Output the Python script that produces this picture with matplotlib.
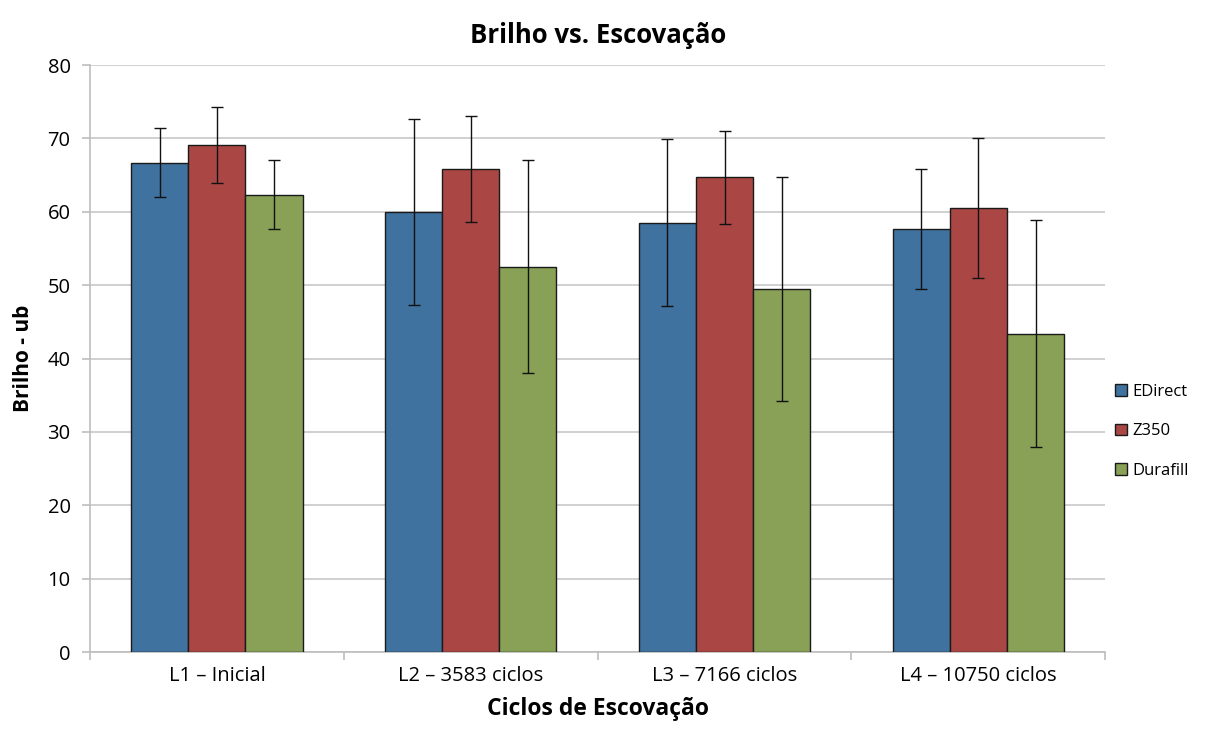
"""Brilho vs. Escovação grouped bar chart."""

import matplotlib
matplotlib.use("Agg")
import matplotlib.pyplot as plt
import numpy as np

plt.rcParams["font.family"] = ["Open Sans", "DejaVu Sans"]

categories = ["L1 – Inicial", "L2 – 3583 ciclos", "L3 – 7166 ciclos", "L4 – 10750 ciclos"]
series_names = ["EDirect", "Z350", "Durafill"]
edirect = [66.7, 60.0, 58.5, 57.7]
z350 = [69.1, 65.8, 64.7, 60.5]
durafill = [62.3, 52.5, 49.5, 43.4]
edirect_err = [4.7, 12.7, 11.4, 8.2]
z350_err = [5.2, 7.2, 6.3, 9.5]
durafill_err = [4.7, 14.5, 15.3, 15.5]
colors = ["#4072A0", "#AA4744", "#88A156"]

values = [edirect, z350, durafill]
errors = [edirect_err, z350_err, durafill_err]

fig = plt.figure(figsize=(12.08, 7.31), dpi=100)
ax = fig.add_axes([0.0745, 0.108, 0.8405, 0.803])

x = np.arange(len(categories))
width = 0.225
for i, (name, vals, errs, col) in enumerate(zip(series_names, values, errors, colors)):
    ax.bar(x + (i - 1) * width, vals, width, color=col, edgecolor="#1a1a1a",
           linewidth=1.0, label=name, zorder=3,
           yerr=errs, capsize=4,
           error_kw=dict(ecolor="#111111", elinewidth=1.0, capthick=1.0, zorder=4))

ax.set_xlim(-0.5, len(categories) - 0.5)
ax.set_ylim(0, 80)
ax.set_yticks(range(0, 81, 10))
ax.yaxis.grid(True, color="#c8c8c8", linewidth=1.2, zorder=0)
ax.set_axisbelow(True)

ax.set_xticks(x)
ax.set_xticklabels(categories, fontsize=14.5)
ax.set_xticks(np.arange(-0.5, len(categories)), minor=True)
ax.tick_params(axis="x", which="major", length=0, pad=10)
ax.tick_params(axis="x", which="minor", length=6, color="#bdbdbd", width=1.2)
ax.tick_params(axis="y", length=6, color="#bdbdbd", width=1.2, labelsize=14.5, pad=8)

for side in ["top", "right"]:
    ax.spines[side].set_visible(False)
for side in ["left", "bottom"]:
    ax.spines[side].set_color("#bdbdbd")
    ax.spines[side].set_linewidth(1.2)

ax.set_title("Brilho vs. Escovação", fontsize=18.5, fontweight="bold", pad=16)
ax.set_xlabel("Ciclos de Escovação", fontsize=16.5, fontweight="bold", labelpad=8)
ax.set_ylabel("Brilho - ub", fontsize=15, fontweight="bold", labelpad=10)

leg = ax.legend(loc="center left", bbox_to_anchor=(1.0, 0.376), frameon=False,
                fontsize=12, handlelength=0.7, handleheight=0.7, labelspacing=1.4,
                handletextpad=0.3, borderaxespad=0.2)

fig.savefig("out.png", dpi=100)
